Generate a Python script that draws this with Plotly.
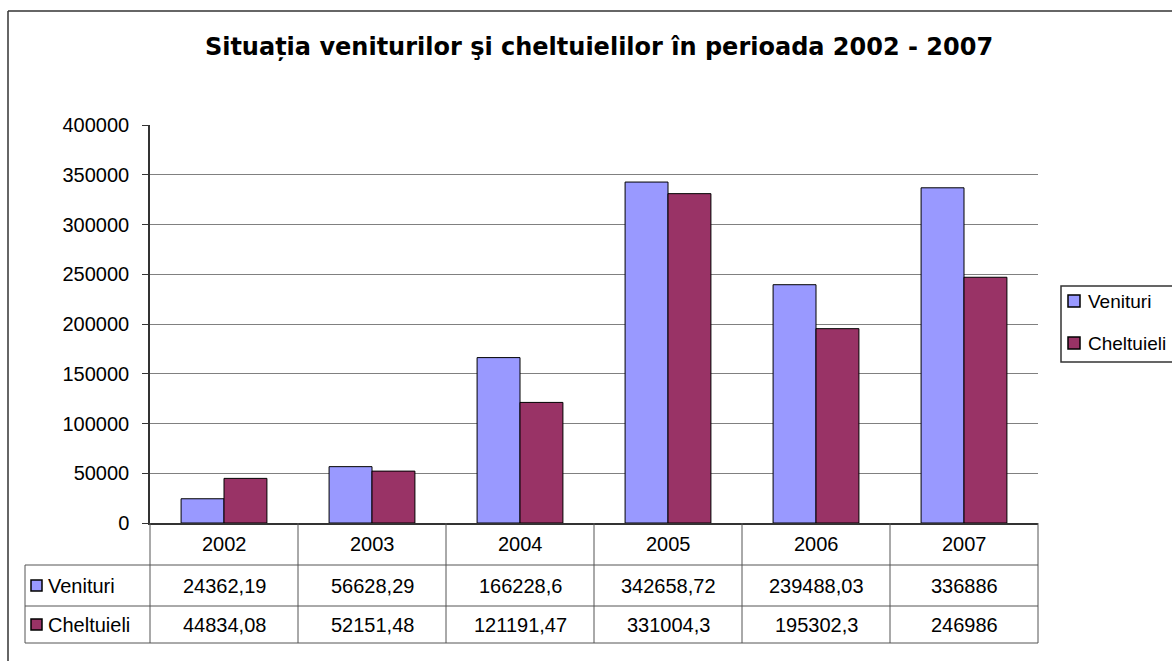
import plotly.graph_objects as go

years = ["2002", "2003", "2004", "2005", "2006", "2007"]
venituri = [24362.19, 56628.29, 166228.6, 342658.72, 239488.03, 336886]
cheltuieli = [44834.08, 52151.48, 121191.47, 331004.3, 195302.3, 246986]
series_names = ["Venituri", "Cheltuieli"]
series_colors = ["#9999FF", "#993366"]
title = "Situația veniturilor şi cheltuielilor în perioada 2002 - 2007"

W, H = 1172, 661
FONT = "Liberation Sans, Arial, sans-serif"

def px(x):
    return x / W

def py(y):
    return 1 - y / H

def fmt(v):
    return ("%.2f" % v).rstrip("0").rstrip(".").replace(".", ",")

fig = go.Figure()
for name, vals, col in zip(series_names, [venituri, cheltuieli], series_colors):
    fig.add_trace(go.Bar(
        x=years, y=vals, name=name, showlegend=False,
        marker=dict(color=col, line=dict(color="black", width=1)),
    ))

# plot-area pixel geometry
X0, X1 = 150, 1038
Y0, Y1 = 125, 523
ROW1, ROW2, ROW3 = 565, 606, 643
LABEL_X = 25

shapes = []
ann = []
line_c = "#555555"
# outer chart border (top & left)
shapes.append(dict(type="line", xref="paper", yref="paper", x0=px(8), x1=1, y0=py(11), y1=py(11),
                   line=dict(color="#333333", width=1.5)))
shapes.append(dict(type="line", xref="paper", yref="paper", x0=px(8), x1=px(8), y0=py(11), y1=0,
                   line=dict(color="#333333", width=1.5)))

n = len(years)
colw = (X1 - X0) / n
for i in range(n + 1):
    xx = X0 + i * colw
    shapes.append(dict(type="line", xref="paper", yref="paper", x0=px(xx), x1=px(xx),
                       y0=py(Y1), y1=py(ROW3), line=dict(color=line_c, width=1)))
shapes.append(dict(type="line", xref="paper", yref="paper", x0=px(LABEL_X), x1=px(LABEL_X),
                   y0=py(ROW1), y1=py(ROW3), line=dict(color=line_c, width=1)))
for yy in (ROW1, ROW2, ROW3):
    shapes.append(dict(type="line", xref="paper", yref="paper", x0=px(LABEL_X), x1=px(X1),
                       y0=py(yy), y1=py(yy), line=dict(color=line_c, width=1)))

fsz = 20
for i, yr in enumerate(years):
    cx = X0 + (i + 0.5) * colw
    ann.append(dict(text=yr, x=px(cx), y=py((Y1 + ROW1) / 2), xref="paper", yref="paper",
                    xanchor="center", yanchor="middle",
                    showarrow=False, font=dict(size=fsz, color="black", family=FONT)))
    for rowc, vals in zip([(ROW1 + ROW2) / 2, (ROW2 + ROW3) / 2], [venituri, cheltuieli]):
        ann.append(dict(text=fmt(vals[i]), x=px(cx), y=py(rowc), xref="paper", yref="paper",
                        xanchor="center", yanchor="middle",
                        showarrow=False, font=dict(size=fsz, color="black", family=FONT)))

for rowc, name, col in zip([(ROW1 + ROW2) / 2, (ROW2 + ROW3) / 2], series_names, series_colors):
    shapes.append(dict(type="rect", xref="paper", yref="paper", x0=px(31), x1=px(42),
                       y0=py(rowc - 5.5), y1=py(rowc + 5.5), fillcolor=col,
                       line=dict(color="black", width=1.5)))
    ann.append(dict(text=name, x=px(46), y=py(rowc), xref="paper", yref="paper",
                    xanchor="left", yanchor="middle",
                    showarrow=False, font=dict(size=fsz, color="black", family=FONT)))

# legend box (drawn manually, cut at right edge like the reference)
shapes.append(dict(type="rect", xref="paper", yref="paper", x0=px(1061), x1=px(1185),
                   y0=py(362), y1=py(286), fillcolor="white",
                   line=dict(color="#333333", width=1.5)))
for cy, name, col in zip([301, 343], series_names, series_colors):
    shapes.append(dict(type="rect", xref="paper", yref="paper", x0=px(1068), x1=px(1080),
                       y0=py(cy + 6), y1=py(cy - 6), fillcolor=col,
                       line=dict(color="black", width=1.5)))
    ann.append(dict(text=name, x=px(1086), y=py(cy), xref="paper", yref="paper",
                    xanchor="left", yanchor="middle",
                    showarrow=False, font=dict(size=19, color="black", family=FONT)))

fig.update_layout(
    width=W, height=H,
    margin=dict(l=0, r=0, t=0, b=0, autoexpand=False),
    paper_bgcolor="white", plot_bgcolor="white",
    title=dict(text="<b>" + title + "</b>", x=599 / W, xanchor="center", y=py(47), yanchor="middle",
               font=dict(size=24, color="black", family="DejaVu Sans, sans-serif")),
    barmode="group", bargap=0.42, bargroupgap=0,
    showlegend=False,
    xaxis=dict(domain=[px(X0), px(X1)], showticklabels=False, ticks="", showgrid=False,
               showline=True, linecolor="#333333", linewidth=1.5, range=[-0.5, n - 0.5]),
    yaxis=dict(domain=[py(Y1), py(Y0)], range=[0, 400000], dtick=50000, tickformat="d",
               showgrid=True, gridcolor="#808080", gridwidth=1,
               showline=True, linecolor="#333333", linewidth=1.5,
               ticks="outside", ticklen=6, tickcolor="#333333", ticklabelstandoff=9,
               tickfont=dict(size=fsz, color="black", family=FONT), zeroline=False),
    shapes=shapes, annotations=ann,
)

fig.write_html("out.html", config={"displayModeBar": False},
               post_script="document.body.style.margin='0';document.body.style.overflow='hidden';")
